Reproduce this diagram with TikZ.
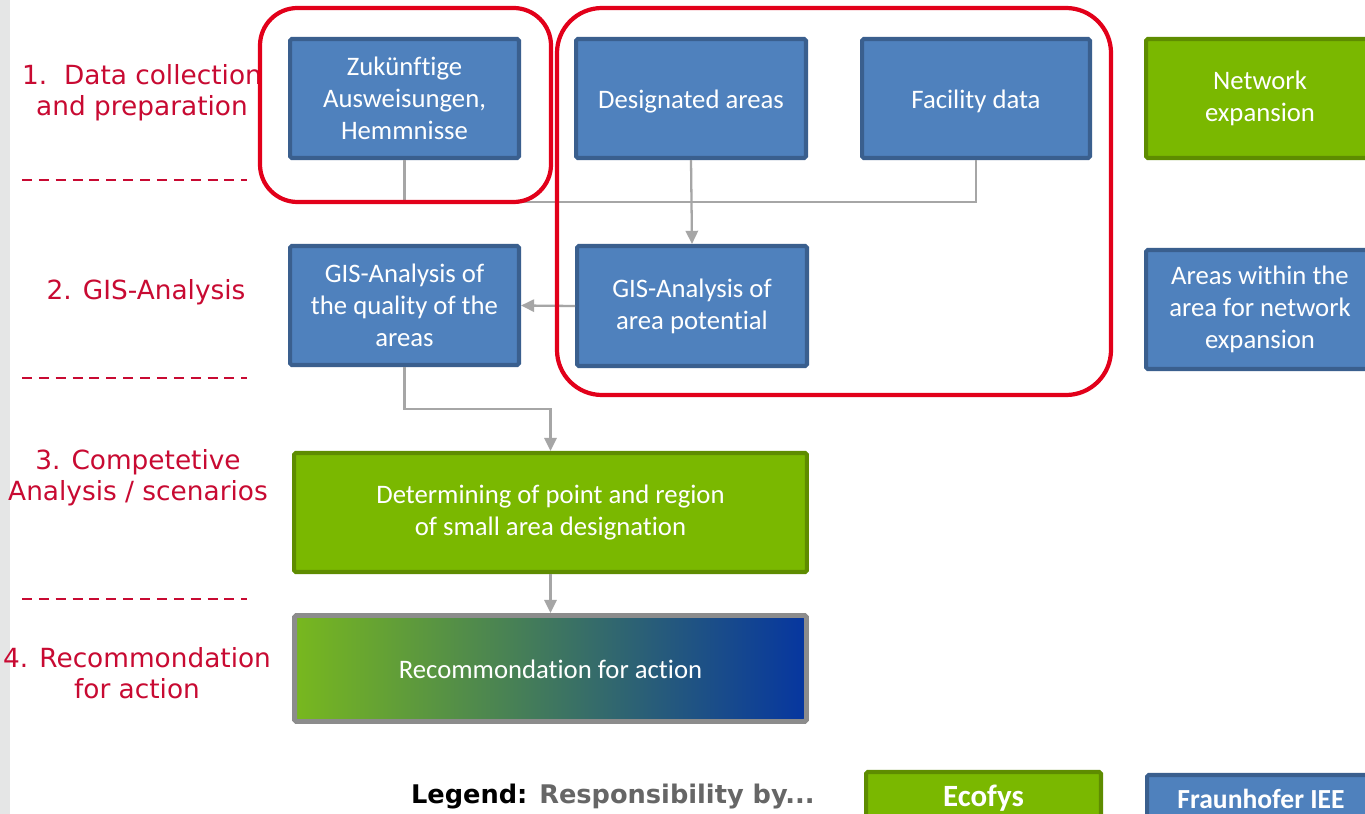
\documentclass[tikz,border=0pt]{standalone}
\usepackage{fontspec}
\setmainfont{Carlito}[Ligatures=NoCommon]
\newfontfamily\verd{DejaVu Sans}
\usetikzlibrary{arrows.meta}
\definecolor{fhblue}{HTML}{4F81BD}
\definecolor{fhborder}{HTML}{3A5F8E}
\definecolor{ecogreen}{HTML}{7AB800}
\definecolor{ecoborder}{HTML}{5E8C00}
\definecolor{framered}{HTML}{E2001A}
\definecolor{lblred}{HTML}{C80A32}
\definecolor{conncol}{HTML}{A6A6A6}
\definecolor{stripcol}{HTML}{E5E6E6}
\definecolor{gradborder}{HTML}{8C8C8C}
\definecolor{gradgreen}{HTML}{78B81E}
\definecolor{gradmid}{HTML}{5A8C78}
\definecolor{gradblue}{HTML}{0636A0}
\definecolor{leggray}{HTML}{666666}
\begin{document}
\begin{tikzpicture}[x=0.02cm,y=-0.02cm,
  box/.style={draw, line width=2.3pt, rounded corners=1pt, text=white, align=center, inner sep=0pt,
    font=\fontsize{15.2}{18.1}\selectfont},
  fbox/.style={box, fill=fhblue, draw=fhborder},
  ebox/.style={box, fill=ecogreen, draw=ecoborder},
  oneline/.style={text height=14pt, text depth=3pt},
  conn/.style={draw=conncol, line width=1.3pt},
  arr/.style={conn, -{Triangle[width=7pt,length=7.5pt]}},
  redframe/.style={draw=framered, line width=2.4pt},
  dashline/.style={draw=lblred, line width=1.1pt, dash pattern=on 5.7pt off 3.9pt},
  steplabel/.style={text=lblred, align=center, inner sep=0pt,
    font=\verd\fontsize{15}{17.6}\selectfont}
]
\useasboundingbox (0,0) rectangle (1365,814);
\fill[white] (0,0) rectangle (1365,814);
\fill[stripcol] (0,0) rectangle (10,814);

% step labels
\node[steplabel] (l1) at (142,92.5) {1.\ \ Data collection\\and preparation};
\node[steplabel] (l2) at (146,292) {2. GIS-Analysis};
\node[steplabel] (l3) at (138,477.5) {3. Competetive\\Analysis / scenarios};
\node[steplabel] (l4) at (137,673.5) {4. Recommondation\\for action};

\draw[dashline] (22,180) -- (247,180);
\draw[dashline] (22,378) -- (247,378);
\draw[dashline] (22,599) -- (247,599);

% boxes
\node[fbox, minimum width=4.58cm, minimum height=2.38cm] (zuk) at (404.5,98.5) {Zukünftige\\Ausweisungen,\\Hemmnisse};
\node[fbox, oneline, minimum width=4.6cm, minimum height=2.38cm] (des) at (691,98.5) {Designated areas};
\node[fbox, oneline, minimum width=4.56cm, minimum height=2.38cm] (fac) at (976,98.5) {Facility data};
\node[ebox, minimum width=4.56cm, minimum height=2.38cm] (net) at (1260,98.5) {Network\\expansion};
\node[fbox, minimum width=4.58cm, minimum height=2.38cm] (gisq) at (404.5,305.5) {GIS-Analysis of\\the quality of the\\areas};
\node[fbox, minimum width=4.6cm, minimum height=2.4cm] (gisp) at (692,306) {GIS-Analysis of\\area potential};
\node[fbox, minimum width=4.56cm, minimum height=2.38cm] (areas) at (1260,309.5) {Areas within the\\area for network\\expansion};
\node[ebox, minimum width=10.26cm, minimum height=2.38cm] (det) at (550.5,512.5) {Determining of point and region\\of small area designation};
\node[box, oneline, draw=gradborder, line width=2.8pt, left color=gradgreen, middle color=gradmid, right color=gradblue,
  minimum width=10.24cm, minimum height=2.12cm] (rec) at (550.5,668.5) {Recommondation for action};

% connectors
\draw[conn] (zuk.south) -- ++(0,42) coordinate (j1) -| (fac.south);
\draw[arr] (des.south) -- (gisp.north);
\draw[arr] (gisp.west) -- (gisq.east);
\draw[arr] (gisq.south) -- ++(0,42) coordinate (j2) -| (det.north);
\draw[arr] (det.south) -- (rec.north);

% red frames
\draw[redframe, rounded corners=0.75cm] (260,8) rectangle (551,202);
\draw[redframe, rounded corners=0.9cm] (557,8) rectangle (1111,395);

% legend
\node[anchor=east, inner sep=0pt, font=\verd\bfseries\fontsize{14.6}{17}\selectfont] (leg) at (815,797)
  {Legend: \textcolor{leggray}{Responsibility by...}};
\node[ebox, minimum width=4.7cm, minimum height=1.04cm, font=\bfseries\fontsize{17.6}{20}\selectfont] (eco) at (983.5,798) {Ecofys};
\node[fbox, minimum width=4.56cm, minimum height=0.96cm, font=\bfseries\fontsize{15.7}{18}\selectfont] (fra) at (1261,799) {Fraunhofer IEE};
\end{tikzpicture}
\end{document}
